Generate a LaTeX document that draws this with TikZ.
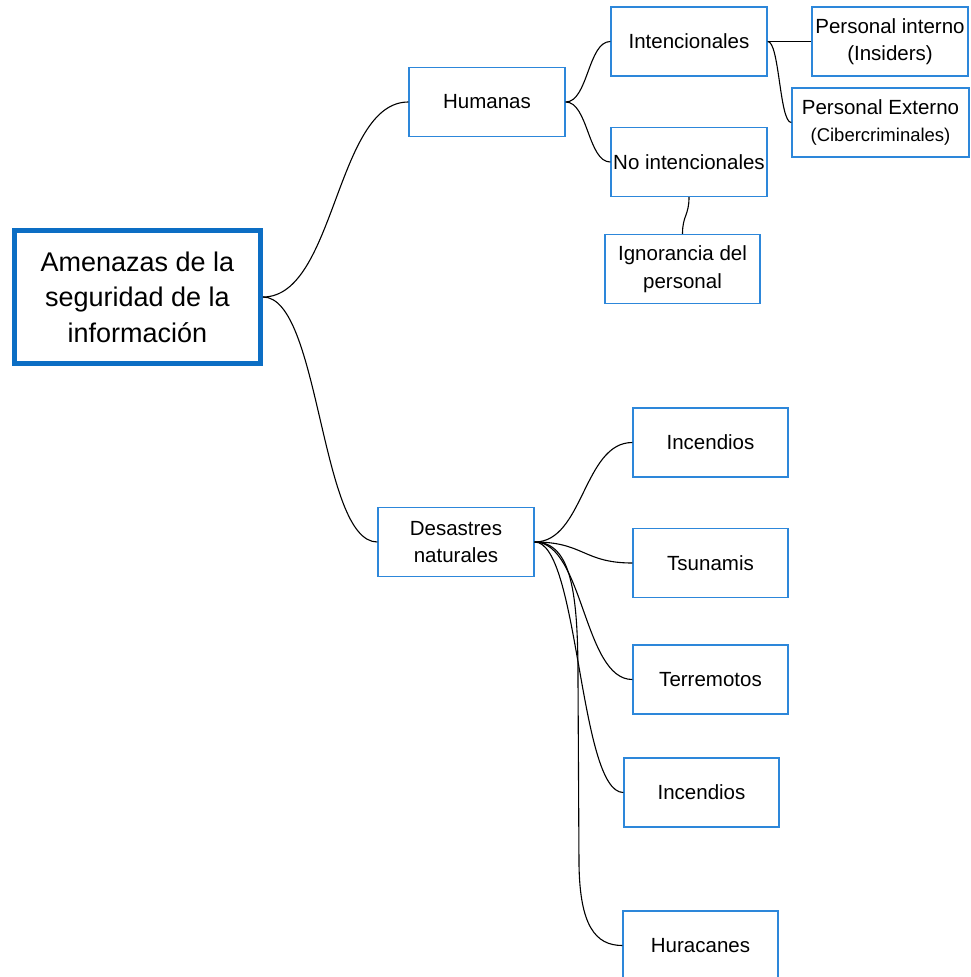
\documentclass[tikz,border=0pt]{standalone}
\usepackage{fontspec}
\setmainfont{Liberation Sans}
\usetikzlibrary{calc}
\definecolor{boxblue}{RGB}{45,135,218}
\definecolor{rootblue}{RGB}{12,110,196}
\tikzset{
  topic/.style={draw=boxblue, line width=1.4pt, fill=white, inner sep=0pt,
    minimum width=156pt, minimum height=69pt, align=center,
    font=\fontsize{20.5pt}{27.5pt}\selectfont},
  roottopic/.style={draw=rootblue, line width=5pt, fill=white, inner sep=0pt,
    minimum width=246pt, minimum height=133pt, align=center,
    font=\fontsize{27pt}{35.5pt}\selectfont},
  link/.style={draw=black, line width=1.1pt},
  hcurve/.style={to path={let \p1=(\tikztostart), \p2=(\tikztotarget) in
    .. controls ({(\x1+\x2)/2},\y1) and ({(\x1+\x2)/2},\y2) .. (\tikztotarget)}},
  vcurve/.style={to path={let \p1=(\tikztostart), \p2=(\tikztotarget) in
    .. controls (\x1,{(\y1+\y2)/2}) and (\x2,{(\y1+\y2)/2}) .. (\tikztotarget)}}
}
\begin{document}
\begin{tikzpicture}[x=1pt,y=-1pt]
\useasboundingbox (0,0) rectangle (971,977);

% root
\node[roottopic] (root) at (137.5,297) {Amenazas de la\\seguridad de la\\información};

% human branch
\node[topic] (hum) at (487,102) {Humanas};
\node[topic] (int) at (689,41.5) {Intencionales};
\node[topic] (pin) at (890,41.5) {Personal interno\\(Insiders)};
\node[topic, minimum width=177pt] (pex) at (880.5,122.5)
  {Personal Externo\\{\fontsize{18.5pt}{27.5pt}\selectfont(Cibercriminales)}};
\node[topic] (noint) at (689,162) {No intencionales};
\node[topic, minimum width=155pt] (ign) at (682.5,269) {Ignorancia del\\personal};

% natural disasters branch
\node[topic] (des) at (456,542) {Desastres\\naturales};
\node[topic, minimum width=155pt] (inc1) at (710.5,442.5) {Incendios};
\node[topic, minimum width=155pt] (tsu) at (710.5,563) {Tsunamis};
\node[topic, minimum width=155pt] (ter) at (710.5,679.5) {Terremotos};
\node[topic, minimum width=155pt] (inc2) at (701.5,792.5) {Incendios};
\node[topic, minimum width=155pt] (hur) at (700.5,945.5) {Huracanes};

% connectors
\draw[link] (root.east) to[hcurve] (hum.west);
\draw[link] (root.east) to[hcurve] (des.west);
\draw[link] (hum.east) to[hcurve] (int.west);
\draw[link] (hum.east) to[hcurve] (noint.west);
\draw[link] (int.east) to[hcurve] (pin.west);
\draw[link] (int.east) to[hcurve] (pex.west);
\draw[link] (noint.south) to[vcurve] (ign.north);
\draw[link] (des.east) to[hcurve] (inc1.west);
\draw[link] (des.east) to[hcurve] (tsu.west);
\draw[link] (des.east) to[hcurve] (ter.west);
\draw[link] (des.east) to[hcurve] (inc2.west);
% long drop: bend, vertical run, softer bend into the box
\draw[link] (des.east) .. controls (572,542) and (578,595) .. (578,680)
  -- (579,865) .. controls (580,925) and (595,945.5) .. (hur.west);
\end{tikzpicture}
\end{document}
